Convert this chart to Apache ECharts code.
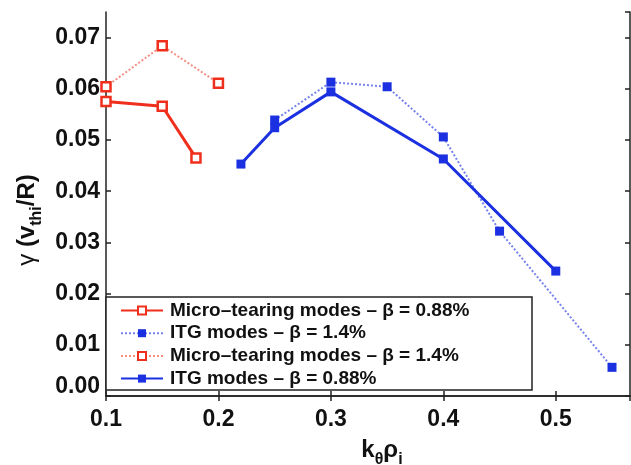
<!DOCTYPE html>
<html>
<head>
<meta charset="utf-8">
<script src="https://cdn.jsdelivr.net/npm/echarts@6/dist/echarts.min.js"></script>
<style>
  html, body { margin: 0; padding: 0; background: #fff; }
  #chart { width: 631px; height: 465px; }
</style>
</head>
<body>
<div id="chart"></div>
<script>
// values
var mt088X = [0.10, 0.15, 0.18];
var mt088Y = [0.0575, 0.0566, 0.0465];
var mt14X = [0.10, 0.15, 0.20];
var mt14Y = [0.0604, 0.0684, 0.0611];
var itg088X = [0.22, 0.25, 0.30, 0.40, 0.50];
var itg088Y = [0.0453, 0.0524, 0.0594, 0.0463, 0.0244];
var itg14X = [0.25, 0.30, 0.35, 0.40, 0.45, 0.55];
var itg14Y = [0.0539, 0.0613, 0.0604, 0.0506, 0.0322, 0.0056];
var legendNames = [
  'Micro\u2013tearing modes \u2013 \u03b2 = 0.88%',
  'ITG modes \u2013 \u03b2 = 1.4%',
  'Micro\u2013tearing modes \u2013 \u03b2 = 1.4%',
  'ITG modes \u2013 \u03b2 = 0.88%'
];

var RED = '#ef2f1c';
var BLUE = '#1b30e0';
var FONT = '"Liberation Sans", Arial, sans-serif';

function pairs(xs, ys) {
  var out = [];
  for (var i = 0; i < xs.length; i++) {
    out.push([xs[i], ys[i]]);
  }
  return out;
}

var myChart = echarts.init(document.getElementById('chart'));

var tickStyle = { show: true, inside: true, length: 5, lineStyle: { color: '#222', width: 1.5 } };
var axisLineStyle = { show: true, lineStyle: { color: '#222', width: 1.5 } };

var option = {
  backgroundColor: '#fff',
  animation: false,
  grid: { left: 106, top: 12, right: 1, bottom: 69, outerBoundsMode: 'none' },
  xAxis: [{
    type: 'value',
    min: 0.1,
    max: 0.566,
    interval: 0.1,
    axisLine: axisLineStyle,
    axisTick: tickStyle,
    splitLine: { show: false },
    axisLabel: {
      color: '#111', fontFamily: FONT, fontWeight: 'bold', fontSize: 23, margin: 12,
      showMaxLabel: false,
      formatter: function(v) { return v.toFixed(1); }
    },
    name: '{m|k}{s|\u03b8}{m|\u03c1}{s|i}',
    nameLocation: 'middle',
    nameGap: 36,
    nameTextStyle: {
      padding: [0, 0, 0, 28],
      rich: {
        m: { fontFamily: FONT, fontWeight: 'bold', fontSize: 24, color: '#111', verticalAlign: 'middle', lineHeight: 36 },
        s: { fontFamily: FONT, fontWeight: 'bold', fontSize: 16, color: '#111', verticalAlign: 'bottom', lineHeight: 36 }
      }
    }
  }, {
    type: 'value',
    position: 'top',
    min: 0.1,
    max: 0.566,
    interval: 0.1,
    axisLine: axisLineStyle,
    axisTick: tickStyle,
    axisLabel: { show: false },
    splitLine: { show: false }
  }],
  yAxis: [{
    type: 'value',
    min: 0,
    max: 0.075,
    interval: 0.01,
    axisLine: axisLineStyle,
    axisTick: tickStyle,
    splitLine: { show: false },
    axisLabel: {
      color: '#111', fontFamily: FONT, fontWeight: 'bold', fontSize: 23, margin: 6,
      showMaxLabel: false,
      formatter: function(v) {
        // the bottom label sits a little above the axis in the original
        return v === 0 ? '{low|0.00}' : v.toFixed(2);
      },
      rich: {
        low: { fontFamily: FONT, fontWeight: 'bold', fontSize: 23, color: '#111', padding: [0, 0, 18, 0] }
      }
    },
    name: '{g|\u03b3}{m| (v}{s|thi}{m|/R)}',
    nameLocation: 'middle',
    nameRotate: 90,
    nameGap: 60,
    nameTextStyle: {
      padding: [0, 32, 0, 0],
      rich: {
        g: { fontFamily: FONT, fontSize: 24, color: '#111', verticalAlign: 'middle', lineHeight: 34 },
        m: { fontFamily: FONT, fontWeight: 'bold', fontSize: 24, color: '#111', verticalAlign: 'middle', lineHeight: 34 },
        s: { fontFamily: FONT, fontWeight: 'bold', fontSize: 16, color: '#111', verticalAlign: 'bottom', lineHeight: 34 }
      }
    }
  }, {
    type: 'value',
    position: 'right',
    min: 0,
    max: 0.075,
    interval: 0.01,
    axisLine: axisLineStyle,
    axisTick: tickStyle,
    axisLabel: { show: false },
    splitLine: { show: false }
  }],
  legend: {
    data: legendNames,
    orient: 'vertical',
    left: 120,
    top: 301,
    itemWidth: 42,
    itemHeight: 10,
    itemGap: 3.7,
    padding: 0,
    textStyle: { fontFamily: FONT, fontWeight: 'bold', fontSize: 19, color: '#111', padding: [0, 0, 0, 2] }
  },
  graphic: [{
    type: 'rect',
    z: 3,
    shape: { x: 106, y: 297, width: 426, height: 93 },
    style: { fill: '#fff', stroke: '#222', lineWidth: 1.5 }
  }],
  series: [{
    name: legendNames[0],
    type: 'line',
    data: pairs(mt088X, mt088Y),
    symbol: 'rect',
    symbolSize: 9,
    lineStyle: { color: RED, width: 3 },
    itemStyle: { color: '#fff', borderColor: RED, borderWidth: 2.5 },
    z: 4
  }, {
    name: legendNames[1],
    type: 'line',
    data: pairs(itg14X, itg14Y),
    symbol: 'rect',
    symbolSize: 9,
    lineStyle: { color: BLUE, width: 2, type: [2, 2], opacity: 0.6 },
    itemStyle: { color: BLUE },
    z: 3
  }, {
    name: legendNames[2],
    type: 'line',
    data: pairs(mt14X, mt14Y),
    symbol: 'rect',
    symbolSize: 9,
    lineStyle: { color: RED, width: 2, type: [2, 2], opacity: 0.55 },
    itemStyle: { color: '#fff', borderColor: RED, borderWidth: 2.5 },
    z: 3
  }, {
    name: legendNames[3],
    type: 'line',
    data: pairs(itg088X, itg088Y),
    symbol: 'rect',
    symbolSize: 9,
    lineStyle: { color: BLUE, width: 3 },
    itemStyle: { color: BLUE },
    z: 4
  }]
};

myChart.setOption(option);
</script>
</body>
</html>
